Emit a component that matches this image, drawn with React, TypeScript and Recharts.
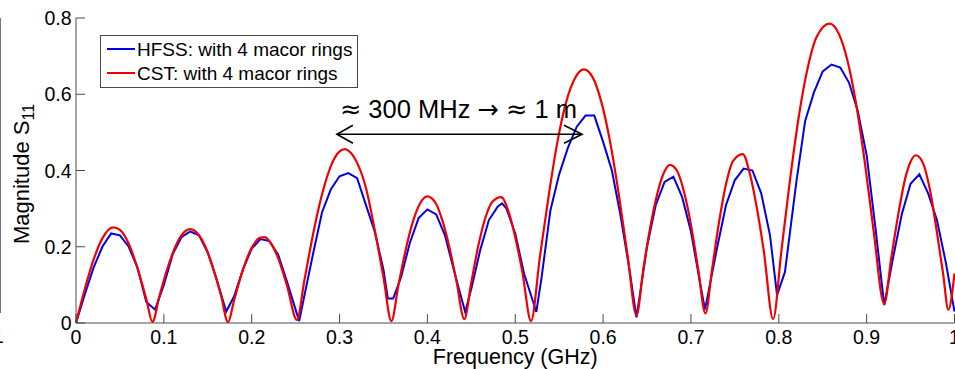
import React from 'react';
import { LineChart, Line, XAxis, YAxis, ReferenceLine } from 'recharts';

// ---------------- data ----------------
const hfssFreq = [
  0.0, 0.01, 0.02, 0.03, 0.04, 0.05, 0.06, 0.07, 0.08, 0.09,
  0.1, 0.11, 0.12, 0.13, 0.14, 0.15, 0.16, 0.171, 0.18, 0.19,
  0.2, 0.21, 0.22, 0.23, 0.24, 0.254, 0.26, 0.27, 0.28, 0.29,
  0.3, 0.31, 0.32, 0.33, 0.34, 0.35, 0.355, 0.361, 0.37, 0.38,
  0.39, 0.4, 0.41, 0.42, 0.43, 0.443, 0.45, 0.46, 0.47, 0.48,
  0.485, 0.49, 0.5, 0.51, 0.524, 0.53, 0.54, 0.55, 0.56, 0.57,
  0.58, 0.59, 0.6, 0.61, 0.62, 0.63, 0.638, 0.65, 0.66, 0.67,
  0.68, 0.69, 0.7, 0.71, 0.716, 0.73, 0.74, 0.75, 0.76, 0.77,
  0.78, 0.79, 0.798, 0.807, 0.82, 0.83, 0.84, 0.85, 0.86, 0.87,
  0.88, 0.89, 0.9, 0.91, 0.92, 0.93, 0.94, 0.95, 0.96, 0.97,
  0.98, 0.99, 1.0,
];
const hfssS11 = [
  0.0, 0.075, 0.145, 0.2, 0.235, 0.23, 0.2, 0.145, 0.055, 0.035,
  0.1, 0.18, 0.225, 0.24, 0.23, 0.185, 0.115, 0.03, 0.07, 0.14,
  0.195, 0.22, 0.215, 0.18, 0.11, 0.005, 0.072, 0.183, 0.29, 0.35,
  0.385, 0.393, 0.38, 0.31, 0.24, 0.14, 0.064, 0.064, 0.12, 0.21,
  0.275, 0.298, 0.285, 0.23, 0.14, 0.029, 0.09, 0.19, 0.27, 0.305,
  0.314, 0.3, 0.235, 0.13, 0.029, 0.12, 0.295, 0.39, 0.46, 0.515,
  0.544, 0.544, 0.475, 0.4, 0.28, 0.14, 0.015, 0.2, 0.31, 0.37,
  0.384, 0.33, 0.24, 0.11, 0.035, 0.2, 0.31, 0.375, 0.405, 0.4,
  0.34, 0.23, 0.073, 0.134, 0.37, 0.53, 0.605, 0.66, 0.678, 0.67,
  0.63, 0.555, 0.44, 0.25, 0.047, 0.17, 0.285, 0.365, 0.39, 0.34,
  0.27, 0.16, 0.03,
];

const cstFreq = [
  0.0, 0.01, 0.02, 0.03, 0.042, 0.05, 0.06, 0.07, 0.08, 0.087,
  0.095, 0.105, 0.115, 0.125, 0.13, 0.135, 0.145, 0.155, 0.165, 0.173,
  0.18, 0.19, 0.2, 0.21, 0.215, 0.22, 0.23, 0.24, 0.2515, 0.26,
  0.27, 0.28, 0.29, 0.3, 0.306, 0.31, 0.32, 0.33, 0.34, 0.35,
  0.359, 0.367, 0.375, 0.383, 0.391, 0.4, 0.409, 0.417, 0.425, 0.433,
  0.442, 0.45, 0.458, 0.466, 0.474, 0.484, 0.492, 0.5, 0.508, 0.518,
  0.528, 0.538, 0.548, 0.558, 0.568, 0.578, 0.588, 0.598, 0.608, 0.618,
  0.628, 0.638, 0.646, 0.654, 0.662, 0.67, 0.676, 0.684, 0.692, 0.7,
  0.708, 0.7165, 0.724, 0.732, 0.74, 0.748, 0.759, 0.767, 0.775, 0.783,
  0.7935, 0.803, 0.813, 0.823, 0.833, 0.843, 0.858, 0.868, 0.878, 0.888,
  0.898, 0.908, 0.92, 0.928, 0.936, 0.944, 0.95, 0.956, 0.964, 0.972,
  0.98, 0.987, 0.993, 1.0,
];
const cstS11 = [
  0.0, 0.089, 0.166, 0.222, 0.251, 0.244, 0.208, 0.144, 0.063, 0.003,
  0.071, 0.15, 0.21, 0.242, 0.246, 0.242, 0.211, 0.152, 0.073, 0.002,
  0.06, 0.14, 0.197, 0.224, 0.225, 0.215, 0.171, 0.1, 0.008, 0.112,
  0.235, 0.337, 0.411, 0.45, 0.456, 0.452, 0.42, 0.355, 0.245, 0.12,
  0.005, 0.099, 0.189, 0.262, 0.311, 0.332, 0.316, 0.269, 0.199, 0.111,
  0.01, 0.107, 0.203, 0.276, 0.318, 0.33, 0.295, 0.225, 0.135, 0.005,
  0.172, 0.333, 0.475, 0.58, 0.642, 0.665, 0.645, 0.58, 0.475, 0.335,
  0.175, 0.02, 0.145, 0.255, 0.342, 0.398, 0.415, 0.4, 0.345, 0.258,
  0.145, 0.025, 0.14, 0.265, 0.365, 0.425, 0.443, 0.392, 0.302, 0.188,
  0.01, 0.19, 0.38, 0.545, 0.67, 0.75, 0.785, 0.76, 0.69, 0.575,
  0.42, 0.24, 0.05, 0.17, 0.285, 0.38, 0.423, 0.44, 0.42, 0.35,
  0.238, 0.13, 0.035, 0.13,
];

const xTicks = [0, 0.1, 0.2, 0.3, 0.4, 0.5, 0.6, 0.7, 0.8, 0.9, 1];
const xTickLabels = ['0', '0.1', '0.2', '0.3', '0.4', '0.5', '0.6', '0.7', '0.8', '0.9', '1'];
const yTicks = [0, 0.2, 0.4, 0.6, 0.8];
const yTickLabels = ['0', '0.2', '0.4', '0.6', '0.8'];

const seriesNames = ['HFSS: with 4 macor rings', 'CST: with 4 macor rings'];
const seriesColors = ['#0000e6', '#f20000'];

const xTitle = 'Frequency (GHz)';
const yTitleMain = 'Magnitude S';
const yTitleSub = '11';

const annotationParts = ['≈', ' 300 MHz ', '→', ' ', '≈', ' 1 m'];
const arrowFrom = 0.297;
const arrowTo = 0.576;
const arrowLevel = 0.495;

const hfssData = hfssFreq.map((f, i) => ({ f, v: hfssS11[i] }));
const cstData = cstFreq.map((f, i) => ({ f, v: cstS11[i] }));

// ---------------- styling ----------------
const FONT = '"Liberation Sans", Arial, Helvetica, sans-serif';
const SYM_FONT = '"DejaVu Sans", sans-serif';
const AXIS = '#4a4a4a';
const TICK_FS = 19.5;
const TICK_LEN = 9;

const labelFor = (ticks: number[], labels: string[], v: number) => {
  const i = ticks.findIndex((t) => Math.abs(t - v) < 1e-9);
  return i >= 0 ? labels[i] : String(v);
};

const BottomTick = (props: any) => {
  const { x, y, payload } = props;
  return (
    <g>
      <line x1={x} y1={y} x2={x} y2={y - TICK_LEN} stroke={AXIS} strokeWidth={1} />
      <text x={x} y={y + 20.5} textAnchor="middle" fontSize={TICK_FS} fontFamily={FONT} fill="#000">
        {labelFor(xTicks, xTickLabels, payload.value)}
      </text>
    </g>
  );
};

const TopTick = (props: any) => {
  const { x, y } = props;
  return <line x1={x} y1={y} x2={x} y2={y + TICK_LEN} stroke={AXIS} strokeWidth={1} />;
};

const LeftTick = (props: any) => {
  const { x, y, payload } = props;
  return (
    <g>
      <line x1={x} y1={y} x2={x + TICK_LEN} y2={y} stroke={AXIS} strokeWidth={1} />
      <text x={x - 4.5} y={y + 7} textAnchor="end" fontSize={TICK_FS} fontFamily={FONT} fill="#000">
        {labelFor(yTicks, yTickLabels, payload.value)}
      </text>
    </g>
  );
};

const RightTick = (props: any) => {
  const { x, y } = props;
  return <line x1={x} y1={y} x2={x - TICK_LEN} y2={y} stroke={AXIS} strokeWidth={1} />;
};

const YTitle = (props: any) => {
  const vb = props.viewBox || { x: 0, y: 18, width: 76, height: 305 };
  const cx = vb.x + 28.5;
  const cy = vb.y + vb.height / 2 + 3.5;
  return (
    <text
      x={cx}
      y={cy}
      transform={`rotate(-90 ${cx} ${cy})`}
      textAnchor="middle"
      fontSize={22}
      fontFamily={FONT}
      fill="#000"
    >
      {yTitleMain}
      <tspan fontSize={16} dy={5}>{yTitleSub}</tspan>
    </text>
  );
};

const ArrowShape = (props: any) => {
  const { x1, y1, x2, y2 } = props;
  return (
    <g>
      <line x1={x1} y1={y1} x2={x2} y2={y2} stroke="#000" strokeWidth={1.6} />
      <polyline
        points={`${x1 + 16},${y1 - 9} ${x1},${y1} ${x1 + 16},${y1 + 9}`}
        fill="none"
        stroke="#000"
        strokeWidth={1.6}
      />
      <polyline
        points={`${x2 - 18},${y2 - 9} ${x2},${y2} ${x2 - 18},${y2 + 9}`}
        fill="none"
        stroke="#000"
        strokeWidth={1.6}
      />
      <text x={x1 + 3} y={y1 - 16} fontSize={25.5} fontFamily={FONT} fill="#000">
        {annotationParts.map((p, i) => (
          <tspan key={i} fontFamily={p === '≈' || p === '→' ? SYM_FONT : FONT}>
            {p}
          </tspan>
        ))}
      </text>
    </g>
  );
};

export default function App() {
  return (
    <div
      style={{
        position: 'absolute',
        left: 0,
        top: 0,
        width: 955,
        height: 369,
        overflow: 'hidden',
        background: '#fff',
      }}
    >
      <LineChart width={971} height={369} margin={{ top: 18, right: 16.5, bottom: 0, left: 0 }}>
        <XAxis
          xAxisId="b"
          type="number"
          dataKey="f"
          domain={[0, 1]}
          ticks={xTicks}
          interval={0}
          height={46}
          tickSize={0}
          tickMargin={0}
          tickLine={false}
          axisLine={{ stroke: AXIS, strokeWidth: 1 }}
          tick={<BottomTick />}
          label={{
            value: xTitle,
            position: 'insideBottom',
            offset: 5,
            fontSize: 21.5,
            fontFamily: FONT,
            fill: '#000',
          }}
        />
        <XAxis
          xAxisId="t"
          orientation="top"
          type="number"
          dataKey="f"
          domain={[0, 1]}
          ticks={xTicks}
          interval={0}
          height={0}
          tickSize={0}
          tickMargin={0}
          tickLine={false}
          axisLine={{ stroke: AXIS, strokeWidth: 1 }}
          tick={<TopTick />}
        />
        <YAxis
          yAxisId="l"
          type="number"
          domain={[0, 0.8]}
          ticks={yTicks}
          interval={0}
          width={76}
          tickSize={0}
          tickMargin={0}
          tickLine={false}
          axisLine={{ stroke: AXIS, strokeWidth: 1 }}
          tick={<LeftTick />}
          label={(p: any) => <YTitle {...p} />}
        />
        <YAxis
          yAxisId="r"
          orientation="right"
          type="number"
          domain={[0, 0.8]}
          ticks={yTicks}
          interval={0}
          width={0}
          tickSize={0}
          tickMargin={0}
          tickLine={false}
          axisLine={{ stroke: AXIS, strokeWidth: 1 }}
          tick={<RightTick />}
        />
        <Line
          xAxisId="b"
          yAxisId="l"
          data={hfssData}
          dataKey="v"
          name={seriesNames[0]}
          type="linear"
          stroke={seriesColors[0]}
          strokeWidth={2}
          dot={false}
          activeDot={false}
          isAnimationActive={false}
        />
        <Line
          xAxisId="b"
          yAxisId="l"
          data={cstData}
          dataKey="v"
          name={seriesNames[1]}
          type="monotone"
          stroke={seriesColors[1]}
          strokeWidth={2.2}
          dot={false}
          activeDot={false}
          isAnimationActive={false}
        />
        <ReferenceLine
          xAxisId="b"
          yAxisId="l"
          ifOverflow="visible"
          segment={[
            { x: arrowFrom, y: arrowLevel },
            { x: arrowTo, y: arrowLevel },
          ]}
          shape={(p: any) => <ArrowShape {...p} />}
        />
      </LineChart>
      <svg
        width={955}
        height={369}
        style={{ position: 'absolute', left: 0, top: 0, pointerEvents: 'none' }}
      >
        {/* edge of neighbouring panel */}
        <line x1={0.5} y1={18} x2={0.5} y2={313} stroke="#777" strokeWidth={1} />
        <text x={-7} y={343} fontSize={TICK_FS} fontFamily={FONT} fill="#000">1</text>
        {/* legend */}
        <rect x={100.5} y={35.5} width={257} height={52} fill="#fff" stroke={AXIS} strokeWidth={1} />
        {seriesNames.map((n, i) => (
          <g key={n}>
            <line x1={107} y1={49 + i * 24} x2={135} y2={49 + i * 24} stroke={seriesColors[i]} strokeWidth={2} />
            <text x={137} y={49 + i * 24 + 6.8} fontSize={19} fontFamily={FONT} fill="#000">
              {n}
            </text>
          </g>
        ))}
      </svg>
    </div>
  );
}
